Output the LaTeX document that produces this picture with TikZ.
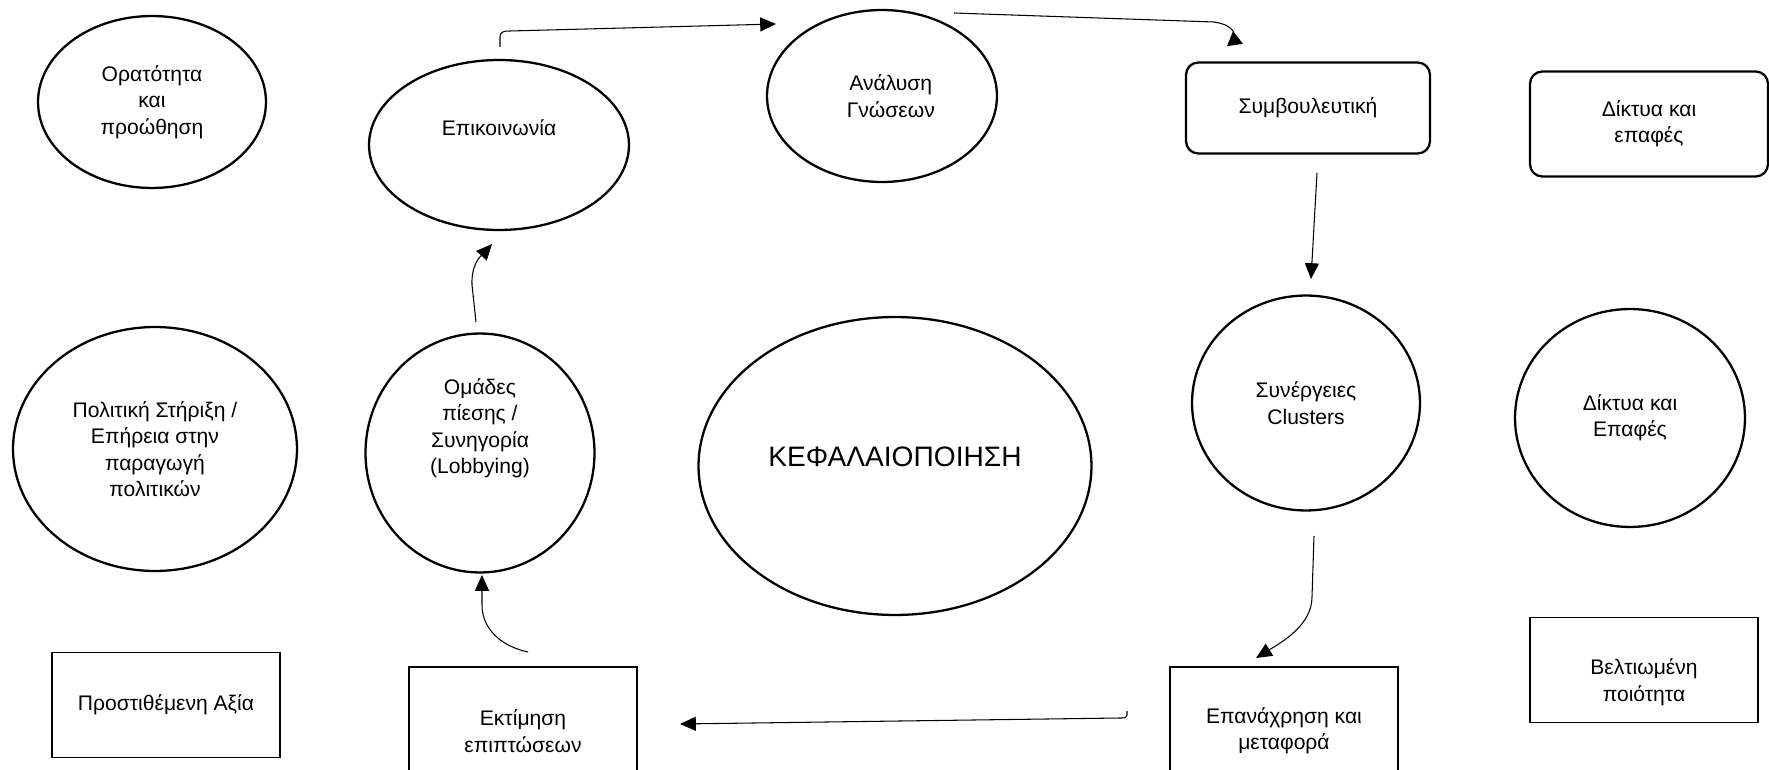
\documentclass[tikz,border=0pt]{standalone}
\usepackage{fontspec}
\setmainfont{Liberation Sans}
\usetikzlibrary{arrows.meta,shapes.geometric}

\tikzset{
  oval/.style={draw, ellipse, line width=1.3pt, inner sep=0pt, align=center},
  rbox/.style={draw, rectangle, rounded corners=7pt, line width=1.3pt, inner sep=0pt, align=center},
  box/.style={draw, rectangle, line width=0.7pt, inner sep=0pt, align=center},
  txt/.style={align=center, font=\fontsize{12}{15}\selectfont},
  link/.style={-{Triangle[length=9pt,width=8pt]}, line width=0.6pt},
}

\begin{document}
\begin{tikzpicture}[x=0.02cm, y=-0.02cm, font=\fontsize{12}{15}\selectfont]
\useasboundingbox (0,0) rectangle (1769,770);

% top row
\draw (152,102)  node (orat) [oval, minimum width=4.56cm, minimum height=3.44cm] {Ορατότητα\\και\\προώθηση};
\draw (499,145)  node (epik) [oval, minimum width=5.2cm, minimum height=3.4cm,
                 label={[txt,yshift=10pt]center:Επικοινωνία}] {};
\draw (882,96)   node (anal) [oval, minimum width=4.6cm, minimum height=3.44cm,
                 label={[txt,xshift=5pt]center:{Ανάλυση\\Γνώσεων}}] {};
\draw (1308,108) node (symv) [rbox, minimum width=4.88cm, minimum height=1.82cm] {Συμβουλευτική};
\draw (1649,124) node (dikt) [rbox, minimum width=4.76cm, minimum height=2.1cm] {Δίκτυα και\\επαφές};

% middle row
\draw (155,449)  node (polit) [oval, minimum width=5.68cm, minimum height=4.88cm] {Πολιτική Στήριξη /\\Επήρεια στην\\παραγωγή\\πολιτικών};
\draw (480,453)  node (omad) [oval, minimum width=4.58cm, minimum height=4.78cm,
                 label={[txt,yshift=14pt]center:{Ομάδες\\πίεσης /\\Συνηγορία\\(Lobbying)}}] {};
\draw (895,466)  node (kefa) [oval, minimum width=7.86cm, minimum height=5.96cm,
                 label={[yshift=5pt,font=\fontsize{16}{19}\selectfont]center:ΚΕΦΑΛΑΙΟΠΟΙΗΣΗ}] {};
\draw (1306,403) node (syne) [oval, minimum width=4.56cm, minimum height=4.3cm] {Συνέργειες\\Clusters};
\draw (1630,418) node (dikt2) [oval, minimum width=4.6cm, minimum height=4.36cm] {Δίκτυα και\\Επαφές};

% bottom row
\draw (166,705)  node (prost) [box, minimum width=4.56cm, minimum height=2.1cm] {Προστιθέμενη Αξία};
\draw (523,731)  node (ektim) [box, minimum width=4.56cm, minimum height=2.56cm] {Εκτίμηση\\επιπτώσεων};
\draw (1284,731) node (epan) [box, minimum width=4.56cm, minimum height=2.56cm] {Επανάχρηση και\\μεταφορά};
\draw (1644,670) node (velt) [box, minimum width=4.56cm, minimum height=2.1cm,
                 label={[txt,yshift=-7pt]center:{Βελτιωμένη\\ποιότητα}}] {};

% arrow ends
\coordinate (epik-out)  at (500,47);
\coordinate (anal-in)   at (776,24);
\coordinate (anal-out)  at (954,13);
\coordinate (symv-in)   at (1235,45);
\coordinate (symv-out)  at (1317,173);
\coordinate (syne-in)   at (1311,279);
\coordinate (syne-out)  at (1314,536);
\coordinate (epan-in)   at (1256,658);
\coordinate (epan-out)  at (1127,711);
\coordinate (ektim-in)  at (680,724);
\coordinate (ektim-out) at (528,652);
\coordinate (omad-in)   at (482,575);
\coordinate (omad-out)  at (476,322);
\coordinate (epik-in)   at (492,244);

\draw[link] (epik-out) -- (500,37) .. controls (500,32) and (503,31) .. (510,31) -- (anal-in);
\draw[-{Triangle[reversed,length=8pt,width=9pt]}, line width=0.6pt]
  (anal-out) -- (1214,22) .. controls (1226,24) and (1230,27) .. (1233,31) -- (symv-in);
\draw[link] (symv-out) -- (syne-in);
\draw[link] (syne-out) -- (1312,597) .. controls (1312,625) and (1282,642) .. (epan-in);
\draw[link] (epan-out) -- (1127,715) .. controls (1127,718) and (1125,718) .. (1120,718) -- (ektim-in);
\draw[link] (ektim-out) .. controls (500,646) and (482,628) .. (482,605) -- (omad-in);
\draw[link] (omad-out) -- (472,285) .. controls (471,262) and (483,254) .. (epik-in);

\end{tikzpicture}
\end{document}
